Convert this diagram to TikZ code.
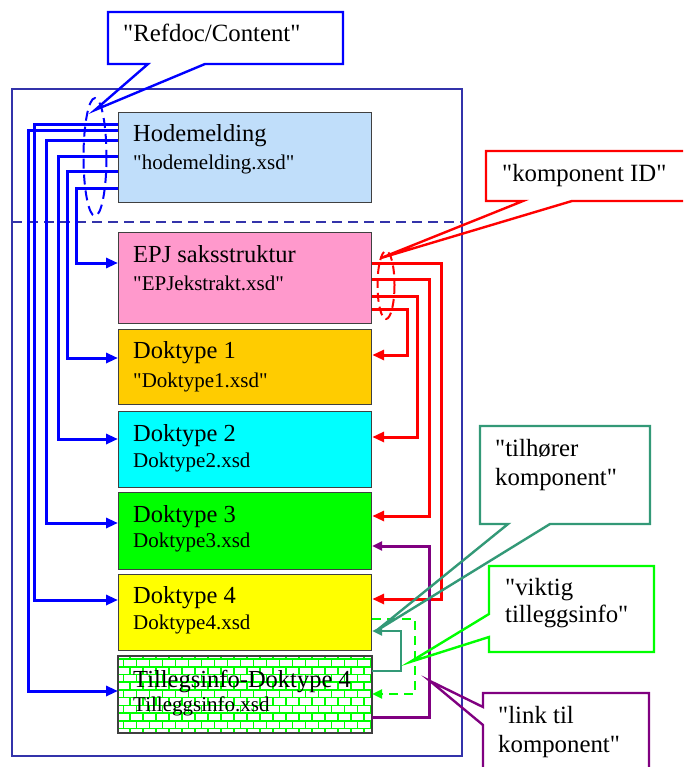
\documentclass[tikz,border=0pt]{standalone}
\usepackage{fontspec}
\setmainfont{Liberation Serif}[Ligatures=TeXOff]
\usetikzlibrary{arrows.meta,patterns}

\definecolor{frameblue}{RGB}{51,51,170}
\definecolor{hodeblue}{RGB}{192,222,250}
\definecolor{epjpink}{RGB}{255,153,204}
\definecolor{dtorange}{RGB}{255,204,0}
\definecolor{dtcyan}{RGB}{0,255,255}
\definecolor{dtgreen}{RGB}{0,255,0}
\definecolor{dtyellow}{RGB}{255,255,0}
\definecolor{linkpurple}{RGB}{128,0,128}
\definecolor{tealgreen}{RGB}{51,153,119}
\definecolor{brickyellow}{RGB}{255,255,153}

\pgfdeclarepatternformonly{brickwall}{\pgfpoint{-1pt}{-1pt}}{\pgfpoint{27pt}{16.4pt}}{\pgfpoint{26pt}{15.4pt}}
{
  \pgfsetlinewidth{1.6pt}
  \pgfpathmoveto{\pgfpoint{-1pt}{0pt}}\pgfpathlineto{\pgfpoint{27pt}{0pt}}
  \pgfpathmoveto{\pgfpoint{-1pt}{7.7pt}}\pgfpathlineto{\pgfpoint{27pt}{7.7pt}}
  \pgfpathmoveto{\pgfpoint{0pt}{0pt}}\pgfpathlineto{\pgfpoint{0pt}{7.7pt}}
  \pgfpathmoveto{\pgfpoint{13pt}{0pt}}\pgfpathlineto{\pgfpoint{13pt}{7.7pt}}
  \pgfpathmoveto{\pgfpoint{6.5pt}{7.7pt}}\pgfpathlineto{\pgfpoint{6.5pt}{15.4pt}}
  \pgfpathmoveto{\pgfpoint{19.5pt}{7.7pt}}\pgfpathlineto{\pgfpoint{19.5pt}{15.4pt}}
  \pgfusepath{stroke}
}

\tikzstyle{doc} = [draw=black!75, line width=1.2pt, rectangle, anchor=north west,
    minimum width=253pt, inner sep=0pt]
\tikzstyle{title} = [anchor=base west, inner sep=0pt, font=\fontsize{24.5}{28}\selectfont]
\tikzstyle{file} = [anchor=base west, inner sep=0pt, font=\fontsize{21}{24}\selectfont]
\tikzstyle{note} = [anchor=base west, inner sep=0pt, font=\fontsize{24.8}{29}\selectfont]
\tikzstyle{bubble} = [line width=2.4pt, line join=miter]
\tikzstyle{refline} = [blue, line width=3pt, -{Triangle[length=12pt,width=10pt]}]
\tikzstyle{idline} = [red, line width=3pt, -{Triangle[length=12pt,width=10pt]}]

\begin{document}
\begin{tikzpicture}[x=1pt,y=-1pt]
\useasboundingbox (0,0) rectangle (683,767);
\clip (0,0) rectangle (683,767);

% ramme
\draw[frameblue, line width=1.5pt] (12,89) rectangle (462,756);
\draw[frameblue, line width=1.5pt, dash pattern=on 10pt off 6pt] (12,222) -- (462,222);

% dokumenter
\node[doc, fill=hodeblue, minimum height=90pt, name=hode] at (118,112) {};
\node[doc, fill=epjpink, minimum height=91pt, name=epj] at (118,232) {};
\node[doc, fill=dtorange, minimum height=75pt, name=dt1] at (118,329) {};
\node[doc, fill=dtcyan, minimum height=76pt, name=dt2] at (118,411) {};
\node[doc, fill=dtgreen, minimum height=77pt, name=dt3] at (118,492) {};
\node[doc, fill=dtyellow, minimum height=76pt, name=dt4] at (118,574) {};
\node[doc, fill=brickyellow, pattern=brickwall, pattern color=dtgreen,
      minimum height=76pt, name=till] at (118,656) {};
\draw[black!75, line width=1.2pt] (till.north west) rectangle (till.south east);

\node[title] (hodeT) at ([shift={(15,30)}]hode.north west) {Hodemelding};
\node[file] (hodeF) at ([shift={(15,58)}]hode.north west) {"hodemelding.xsd"};
\node[title] (epjT) at ([shift={(15,30)}]epj.north west) {EPJ saksstruktur};
\node[file] (epjF) at ([shift={(15,58)}]epj.north west) {"EPJekstrakt.xsd"};
\node[title] (dt1T) at ([shift={(15,29)}]dt1.north west) {Doktype 1};
\node[file] (dt1F) at ([shift={(15,58)}]dt1.north west) {"Doktype1.xsd"};
\node[title] (dt2T) at ([shift={(15,30)}]dt2.north west) {Doktype 2};
\node[file] (dt2F) at ([shift={(15,56)}]dt2.north west) {Doktype2.xsd};
\node[title] (dt3T) at ([shift={(15,30)}]dt3.north west) {Doktype 3};
\node[file] (dt3F) at ([shift={(15,55)}]dt3.north west) {Doktype3.xsd};
\node[title] (dt4T) at ([shift={(15,29)}]dt4.north west) {Doktype 4};
\node[file] (dt4F) at ([shift={(15,55)}]dt4.north west) {Doktype4.xsd};
\node[title] (tillT) at ([shift={(15,31)}]till.north west) {Tillegsinfo-Doktype 4};
\node[file] (tillF) at ([shift={(15,55)}]till.north west) {Tilleggsinfo.xsd};

% refdoc-lenker
\draw[refline] ([shift={(0,13)}]hode.north west) -- ++(-84,0) |- ([shift={(0,26)}]dt4.north west);
\draw[refline] ([shift={(0,19)}]hode.north west) -- ++(-90,0) |- ([shift={(0,35)}]till.north west);
\draw[refline] ([shift={(0,29)}]hode.north west) -- ++(-72,0) |- ([shift={(0,31)}]dt3.north west);
\draw[refline] ([shift={(0,45)}]hode.north west) -- ++(-60,0) |- ([shift={(0,28)}]dt2.north west);
\draw[refline] ([shift={(0,60)}]hode.north west) -- ++(-51,0) |- ([shift={(0,29)}]dt1.north west);
\draw[refline] ([shift={(0,77)}]hode.north west) -- ++(-42,0) |- ([shift={(0,31)}]epj.north west);

% komponent ID
\draw[idline] ([shift={(0,31)}]epj.north east) -- ++(69,0) |- ([shift={(0,25)}]dt4.north east);
\draw[idline] ([shift={(0,47)}]epj.north east) -- ++(57,0) |- ([shift={(0,24)}]dt3.north east);
\draw[idline] ([shift={(0,64)}]epj.north east) -- ++(45,0) |- ([shift={(0,26)}]dt2.north east);
\draw[idline] ([shift={(0,77)}]epj.north east) -- ++(35,0) |- ([shift={(0,26)}]dt1.north east);

% tillegg
\draw[linkpurple, line width=3pt, -{Triangle[length=10pt,width=9pt]}]
  ([shift={(0,61)}]till.north east) -- ++(57,0) |- ([shift={(0,54)}]dt3.north east);
\draw[tealgreen, line width=2.5pt, -{Triangle[length=10pt,width=9pt]}]
  ([shift={(0,15)}]till.north east) -- ++(29,0) |- ([shift={(0,57)}]dt4.north east);
\draw[dtgreen, line width=2.5pt, dash pattern=on 9pt off 6pt, -{Triangle[length=10pt,width=9pt]}]
  ([shift={(0,45)}]dt4.north east) -- ++(43,0) |- ([shift={(0,38)}]till.north east);

\draw[blue, line width=2pt, dash pattern=on 10pt off 6pt] (95,157) ellipse [x radius=11.5, y radius=59];
\draw[red, line width=2pt, dash pattern=on 9pt off 5pt] (386,285) ellipse [x radius=8.5, y radius=34];

% bobler
\draw[bubble, blue] (108,12) -- (343,12) -- (343,64) -- (205,64) -- (95,110) -- (148,64) -- (108,64) -- cycle;
\node[note] (refT) at (123,42) {"Refdoc/Content"};

\draw[bubble, red] (486,151) -- (720,151) -- (720,201) -- (572,201) -- (381,258) -- (523,201) -- (486,201) -- cycle;
\node[note] (idT) at (502,182) {"komponent ID"};

\draw[bubble, tealgreen] (480,426) -- (650,426) -- (650,524) -- (550,524) -- (376,631) -- (508,524) -- (480,524) -- cycle;
\node[note] (tilT) at (495,456) {"tilhører};
\node[note] (tilU) at (495,485) {komponent"};

\draw[bubble, dtgreen] (489,566) -- (654,566) -- (654,652) -- (489,652) -- (489,637) -- (410,662) -- (489,614) -- cycle;
\node[note] (vikT) at (505,595) {"viktig};
\node[note] (vikU) at (505,622) {tilleggsinfo"};

\draw[bubble, linkpurple] (483,693) -- (649,693) -- (649,790) -- (483,790) -- (483,725) -- (430,681) -- (483,707) -- cycle;
\node[note] (linkT) at (498,723) {"link til};
\node[note] (linkU) at (498,752) {komponent"};
\end{tikzpicture}
\end{document}
